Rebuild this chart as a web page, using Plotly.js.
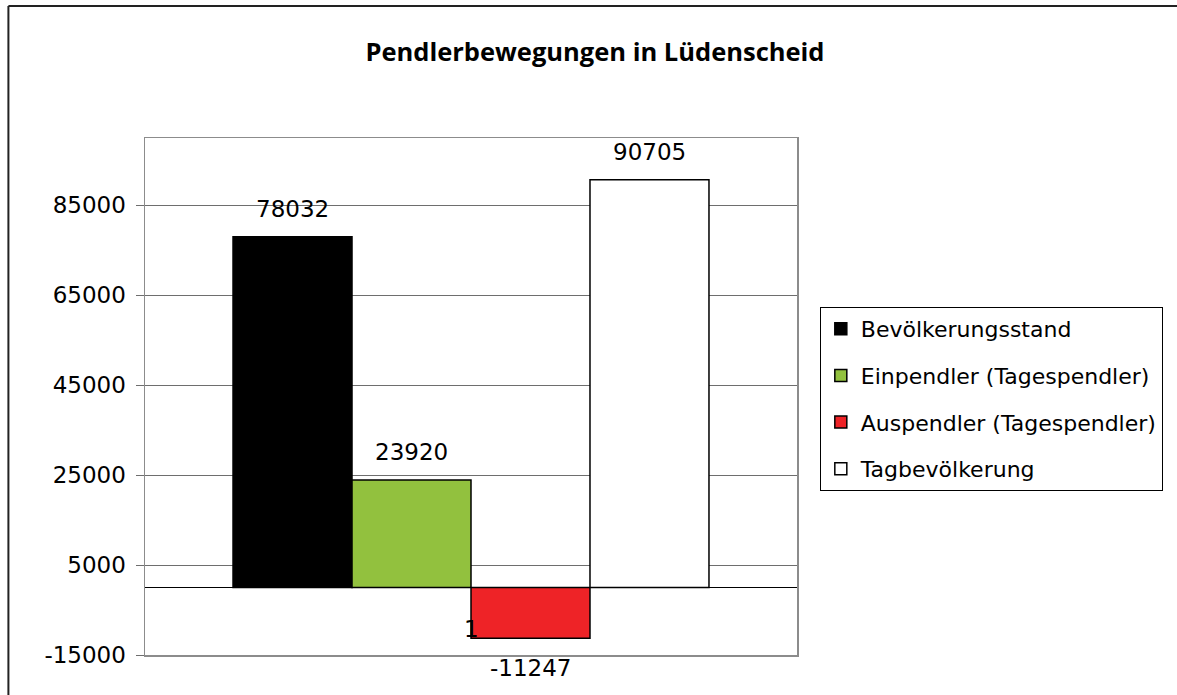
<!DOCTYPE html>
<html>
<head>
<meta charset="utf-8">
<script src="https://cdn.plot.ly/plotly-3.0.1.min.js"></script>
<style>html,body{margin:0;padding:0;background:#fff;overflow:hidden;}#chart{width:1177px;height:695px;}</style>
</head>
<body>
<div id="chart"></div>
<script>
// Data
const category = ["1"];
const seriesNames = ["Bevölkerungsstand", "Einpendler (Tagespendler)", "Auspendler (Tagespendler)", "Tagbevölkerung"];
const seriesValues = [78032, 23920, -11247, 90705];
const seriesColors = ["#000000", "#92C13E", "#EE2327", "#FFFFFF"];
const yTickValues = [-15000, 5000, 25000, 45000, 65000, 85000];
const chartTitle = "Pendlerbewegungen in Lüdenscheid";

const bargap = 0.27;
const labelFont = {family: "DejaVu Sans", size: 23, color: "#000"};

const traces = seriesNames.map((name, i) => ({
  type: "bar",
  name: name,
  x: category,
  y: [seriesValues[i]],
  legendgroup: "g" + i,
  marker: {color: seriesColors[i], line: {color: "#000", width: 1.5}},
  hoverinfo: "skip"
}));

const n = seriesValues.length;
const barW = (1 - bargap) / n;
const annotations = seriesValues.map((v, i) => ({
  xref: "x", yref: "y",
  x: -(1 - bargap) / 2 + (i + 0.5) * barW,
  y: v,
  text: String(v),
  showarrow: false,
  font: labelFont,
  yanchor: v >= 0 ? "bottom" : "top",
  yshift: v >= 0 ? 13 : -15
}));
// stray category label seen in the reference
annotations.push({
  xref: "x", yref: "y",
  x: 0, y: seriesValues[2],
  text: category[0],
  showarrow: false,
  font: labelFont,
  yanchor: "bottom",
  yshift: -6
});

const layout = {
  width: 1177, height: 695,
  margin: {l: 145, r: 380, t: 138, b: 40},
  paper_bgcolor: "#fff",
  plot_bgcolor: "#fff",
  barmode: "group",
  bargap: bargap,
  bargroupgap: 0,
  title: {
    text: "<b>" + chartTitle + "</b>",
    font: {family: "Open Sans", size: 25.5, color: "#000"},
    xref: "container", x: 0.5055,
    yref: "container", y: 0.925, yanchor: "middle"
  },
  xaxis: {
    type: "category",
    range: [-0.5, 0.5],
    showticklabels: false,
    ticks: "",
    showgrid: false,
    showline: true, mirror: true, linecolor: "#8c8c8c", linewidth: 1.5,
    zeroline: false,
    fixedrange: true
  },
  yaxis: {
    range: [-15000, 100000],
    tickmode: "array",
    tickvals: yTickValues,
    ticktext: yTickValues.map(String),
    tickfont: {family: "DejaVu Sans", size: 23, color: "#000"},
    ticks: "outside", ticklen: 8, tickcolor: "#6e6e6e", tickwidth: 1,
    ticklabelstandoff: 5,
    showgrid: true, gridcolor: "#6e6e6e", gridwidth: 1,
    zeroline: true, zerolinecolor: "#000", zerolinewidth: 1.2,
    showline: true, mirror: true, linecolor: "#8c8c8c", linewidth: 1.5,
    fixedrange: true
  },
  legend: {
    x: 1.035, xanchor: "left",
    y: 0.673, yanchor: "top",
    bgcolor: "#fff",
    bordercolor: "#000", borderwidth: 1,
    font: {family: "DejaVu Sans", size: 22, color: "#000"},
    traceorder: "grouped",
    tracegroupgap: 15,
    itemclick: false, itemdoubleclick: false
  },
  shapes: [
    {type: "line", xref: "paper", yref: "paper",
     x0: -0.2095, x1: 1.6, y0: 1.2555, y1: 1.2555,
     line: {color: "#222", width: 2}, layer: "below"},
    {type: "line", xref: "paper", yref: "paper",
     x0: -0.2095, x1: -0.2095, y0: -0.2, y1: 1.2555,
     line: {color: "#222", width: 2}, layer: "below"}
  ],
  annotations: annotations,
  showlegend: true
};

Plotly.newPlot("chart", traces, layout, {staticPlot: true, displayModeBar: false});
</script>
</body>
</html>
